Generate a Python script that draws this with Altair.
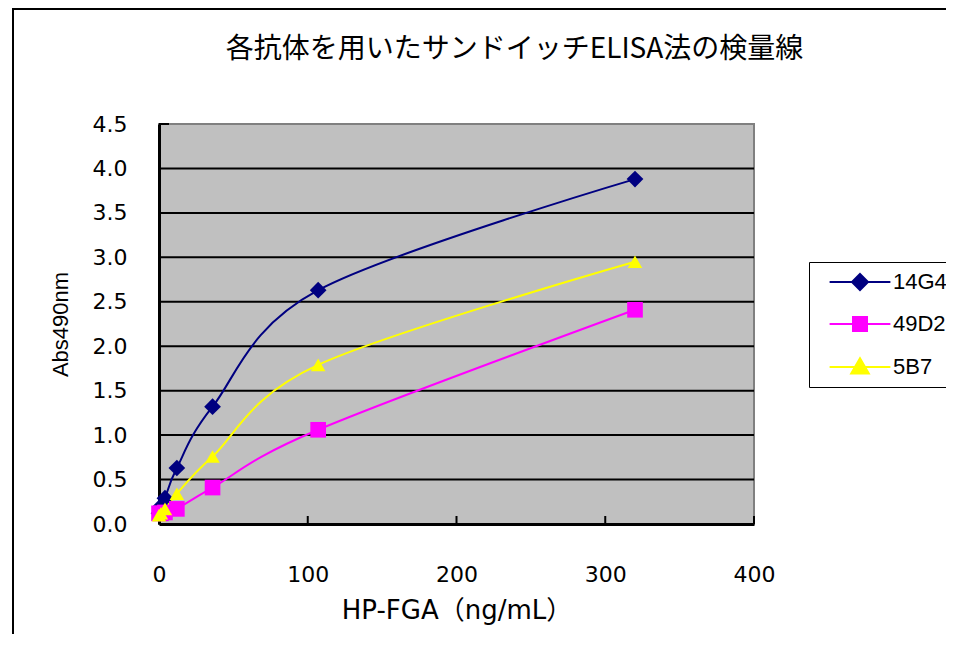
import altair as alt
import pandas as pd

# ---- data ----
conc = [0, 1.3, 4, 12, 36, 107, 320]
abs_14G4 = [0.12, 0.20, 0.29, 0.63, 1.32, 2.63, 3.88]
abs_49D2 = [0.12, 0.12, 0.13, 0.17, 0.41, 1.06, 2.41]
abs_5B7 = [0.10, 0.12, 0.17, 0.34, 0.76, 1.79, 2.95]
series_names = ["14G4", "49D2", "5B7"]
series_colors = ["#000080", "#FF00FF", "#FFFF00"]
x_ticks = [0, 100, 200, 300, 400]
y_ticks = [0.0, 0.5, 1.0, 1.5, 2.0, 2.5, 3.0, 3.5, 4.0, 4.5]
grid_vals = [0.5, 1.0, 1.5, 2.0, 2.5, 3.0, 3.5, 4.0]

rows = []
for k, (name, vals) in enumerate(zip(series_names, [abs_14G4, abs_49D2, abs_5B7])):
    for c, v in zip(conc, vals):
        rows.append({"series": name, "conc": c, "abs": v, "k": k})
df = pd.DataFrame(rows)

W, H = 595, 400
PAD_L, PAD_T = 151, 116

xscale = alt.Scale(domain=[0, 400], nice=False, zero=True)
yscale = alt.Scale(domain=[0, 4.5], nice=False, zero=True)

def cscale():
    return alt.Scale(domain=series_names, range=series_colors)

# outer chart frame
frame = alt.Chart(pd.DataFrame({"f": [0]})).mark_rect(
    fill="white", fillOpacity=0, stroke="black", strokeWidth=2
).encode(
    x=alt.value(13 - 8 - PAD_L), x2=alt.value(1000),
    y=alt.value(9 - 8 - PAD_T), y2=alt.value(800),
)

base_axes = alt.Chart(pd.DataFrame({"conc": [0, 400], "abs": [0, 4.5]})).mark_point(opacity=0).encode(
    x=alt.X("conc:Q", scale=xscale,
            axis=alt.Axis(values=x_ticks, format="d", grid=False, ticks=False, labelFlush=False,
                          domainColor="black", domainWidth=3,
                          labelFont="DejaVu Sans", labelFontSize=22, labelColor="black",
                          labelPadding=40,
                          title="HP-FGA（ng/mL）", titleFont="DejaVu Sans, Noto Sans CJK JP",
                          titleFontSize=26, titleFontWeight="normal", titleColor="black",
                          titlePadding=12)),
    y=alt.Y("abs:Q", scale=yscale,
            axis=alt.Axis(values=y_ticks, format=".1f", grid=False, ticks=False, labelFlush=False,
                          domainColor="black", domainWidth=3,
                          labelFont="DejaVu Sans", labelFontSize=22, labelColor="black",
                          labelPadding=32,
                          title="Abs490nm", titleFont="Liberation Sans",
                          titleFontSize=22, titleFontWeight="normal", titleColor="black",
                          titlePadding=20)),
)

grid = alt.Chart(pd.DataFrame({"g": grid_vals})).mark_rule(color="black", strokeWidth=2).encode(
    y=alt.Y("g:Q", scale=yscale)
)

xtick_layer = alt.Chart(pd.DataFrame({"t": x_ticks[1:]})).mark_rule(color="black", strokeWidth=2).encode(
    x=alt.X("t:Q", scale=xscale), y=alt.value(H), y2=alt.value(H - 8)
)
ytick_layer = alt.Chart(pd.DataFrame({"t": [4.5]})).mark_rule(color="black", strokeWidth=2).encode(
    y=alt.Y("t:Q", scale=yscale), x=alt.value(0), x2=alt.value(10)
)

lines = alt.Chart(df).mark_line(strokeWidth=2, interpolate="cardinal").encode(
    x=alt.X("conc:Q", scale=xscale),
    y=alt.Y("abs:Q", scale=yscale),
    color=alt.Color("series:N", scale=cscale(), legend=None),
    detail="series:N",
)

points = alt.Chart(df).mark_point(filled=True, opacity=1).encode(
    x=alt.X("conc:Q", scale=xscale),
    y=alt.Y("abs:Q", scale=yscale),
    color=alt.Color("series:N", scale=cscale(), legend=None),
    shape=alt.Shape("series:N", scale=alt.Scale(domain=series_names,
                                                range=["diamond", "square", "triangle-up"]), legend=None),
    size=alt.Size("series:N", scale=alt.Scale(domain=series_names, range=[280, 210, 330]), legend=None),
    order=alt.Order("k:Q"),
)

legend_paths = [
    "M-3.8,0H3.8M0,-1L1,0L0,1L-1,0Z",
    "M-3.8,0H3.8M-0.875,-0.875H0.875V0.875H-0.875Z",
    "M-3.8,0H3.8M0,-1.1L1.1,0.8H-1.1Z",
]
leg = alt.Legend(
    title=None, orient="none", legendX=650, legendY=138,
    labelFont="Liberation Sans", labelFontSize=22, labelColor="black",
    strokeColor="black", fillColor="white", padding=9, rowPadding=19,
    symbolSize=256, symbolStrokeWidth=2, symbolOpacity=1,
    symbolOffset=31, labelOffset=22,
    labelExpr="datum.label + '\u00a0\u00a0\u00a0'",
)
legend_layer = alt.Chart(pd.DataFrame({"series": series_names})).mark_point(
    filled=True, size=256, clip=True, opacity=1
).encode(
    x=alt.value(-500), y=alt.value(-500),
    color=alt.Color("series:N", scale=cscale(), legend=leg),
    stroke=alt.Stroke("series:N", scale=cscale(), legend=leg),
    shape=alt.Shape("series:N", scale=alt.Scale(domain=series_names, range=legend_paths), legend=leg),
)

chart = alt.layer(
    frame, base_axes, grid, xtick_layer, ytick_layer, lines, points, legend_layer
).resolve_scale(
    color="independent", shape="independent", stroke="independent", size="independent"
).resolve_legend(
    color="independent", shape="independent", stroke="independent", size="independent"
).properties(
    width=W, height=H,
    autosize=alt.AutoSizeParams(type="none"),
    padding={"left": PAD_L, "top": PAD_T, "right": 192, "bottom": 110},
    background="white",
    title=alt.TitleParams(
        text="各抗体を用いたサンドイッチELISA法の検量線",
        font="Noto Sans CJK JP", fontSize=28, fontWeight="normal", color="black",
        anchor="middle", frame="group", dx=58, dy=60,
    ),
).configure_view(
    fill="#C0C0C0", stroke="#808080", strokeWidth=2
)

chart.save("out.html", embed_options={"renderer": "svg", "actions": False})
